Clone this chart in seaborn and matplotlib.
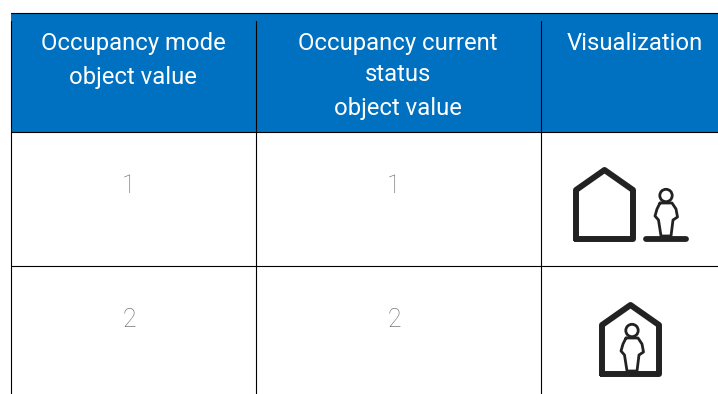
import matplotlib
matplotlib.use('Agg')
import matplotlib.pyplot as plt
from matplotlib.patches import Circle
import seaborn as sns
import numpy as np

sns.set_theme(style='white')
plt.rcParams['font.family'] = ['Roboto', 'DejaVu Sans']

W, H = 718, 394

# table content
headers = ['Occupancy mode\nobject value', 'Occupancy current\nstatus\nobject value', 'Visualization']
modeValues = ['1', '2']
statusValues = ['1', '2']

BLUE = '#0070C0'
INK = '#222222'

fig = plt.figure(figsize=(W / 100, H / 100), dpi=100)

# header band, one heatmap cell
axHead = fig.add_axes([11 / W, 1 - 132 / H, (W - 11) / W, 119 / H])
sns.heatmap(np.array([[1.0]]), cmap=[BLUE], cbar=False, ax=axHead,
            xticklabels=False, yticklabels=False)

# overlay in pixel coordinates
ax = fig.add_axes([0, 0, 1, 1])
ax.set_xlim(0, W)
ax.set_ylim(H, 0)
ax.axis('off')
ax.patch.set_alpha(0)

# grid lines
lineW = 0.8
ax.plot([11, W], [13, 13], color='black', lw=lineW)
ax.plot([11, W], [132, 132], color='black', lw=lineW)
ax.plot([11, W], [266, 266], color='black', lw=lineW)
ax.plot([11, 11], [21, H], color='black', lw=lineW)
ax.plot([256, 256], [21, H], color='black', lw=lineW)
ax.plot([541, 541], [21, H], color='black', lw=lineW)

# header text, line by line
headLines = [(133, 43, 'Occupancy mode'), (133, 77, 'object value'),
             (398, 43, 'Occupancy current'), (398, 74, 'status'), (398, 108, 'object value'),
             (635, 43, 'Visualization')]
for x, y, s in headLines:
    ax.text(x, y, s, color='white', fontsize=17.2, ha='center', va='center', fontweight='normal')

# body values
for i, y in enumerate([186, 320]):
    ax.text(129, y, modeValues[i], color='#777777', fontsize=18, ha='center', va='center', fontweight='light')
    ax.text(394, y, statusValues[i], color='#777777', fontsize=18, ha='center', va='center', fontweight='light')

def house(dx, dy):
    xs = np.array([576, 576, 604.5, 633, 633, 576]) + dx
    ys = np.array([239, 190, 170, 190, 239, 239]) + dy
    ax.plot(xs, ys, color=INK, lw=4.3, solid_joinstyle='round', solid_capstyle='round')

def person(dx, dy):
    ax.add_patch(Circle((666 + dx, 195.5 + dy), 6.2, fill=False, ec=INK, lw=2))
    xs = np.array([660, 672, 676, 677.5, 673, 671, 661, 658.5, 655, 657, 660]) + dx
    ys = np.array([203, 203, 209, 217, 220, 236, 236, 220, 216, 209, 203]) + dy
    ax.plot(xs, ys, color=INK, lw=2, solid_joinstyle='round')

house(0, 0)
person(0, 0)
ax.plot([646, 686], [239, 239], color=INK, lw=4.2, solid_capstyle='round')

house(26, 135)
person(-34, 135)

fig.savefig('out.png', dpi=100)
